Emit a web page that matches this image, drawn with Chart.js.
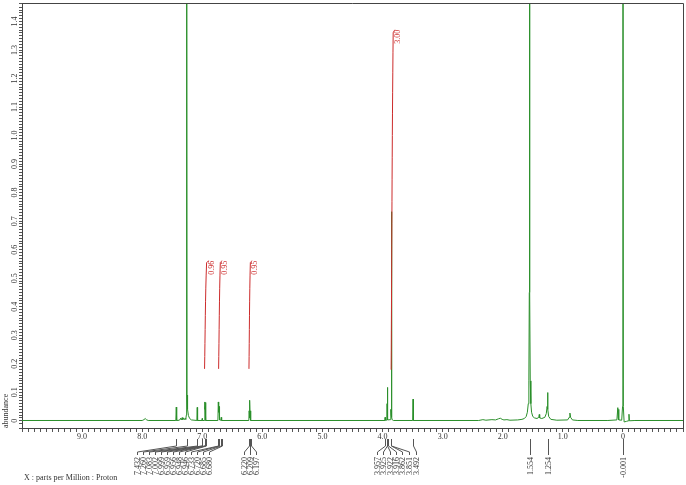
<!DOCTYPE html>
<html lang="en">
<head>
<meta charset="UTF-8" />
<title>1H NMR</title>
<script src="https://cdn.jsdelivr.net/npm/chart.js@4.4.1/dist/chart.umd.min.js"></script>
<style>
  html,body{margin:0;padding:0;background:#fff;}
  #wrap{width:686px;height:485px;}
</style>
</head>
<body>
<div id="wrap"><canvas id="nmr" width="686" height="485"></canvas></div>

<script>
/* ---- data ---- */
// [ppm, abundance]; tall solvent / TMS lines go off the top of the frame
const spectrumPts = [
  [10.0,0.001],[8.00,0.001],[7.97,0.004],[7.95,0.008],[7.93,0.004],[7.90,0.001],
  [7.44,0.001],[7.433,0.048],[7.426,0.001],[7.38,0.002],[7.36,0.009],[7.35,0.003],
  [7.335,0.011],[7.325,0.004],[7.31,0.010],[7.30,0.004],[7.285,0.008],[7.275,0.005],
  [7.265,0.02],[7.260,3.0],[7.254,0.09],[7.245,0.04],[7.23,0.018],[7.21,0.008],[7.18,0.003],
  [7.09,0.001],[7.084,0.047],[7.078,0.001],[7.005,0.001],[7.001,0.008],[6.997,0.001],
  [6.965,0.001],[6.959,0.066],[6.955,0.04],[6.951,0.05],[6.946,0.064],[6.940,0.001],
  [6.74,0.001],[6.733,0.066],[6.727,0.03],[6.720,0.05],[6.713,0.003],[6.69,0.002],
  [6.685,0.012],[6.680,0.01],[6.675,0.001],
  [6.225,0.001],[6.220,0.035],[6.214,0.01],[6.209,0.072],[6.203,0.01],[6.197,0.035],[6.192,0.001],
  [3.96,0.001],[3.957,0.012],[3.953,0.002],[3.93,0.002],[3.925,0.06],[3.922,0.117],
  [3.916,0.05],[3.91,0.003],[3.87,0.004],[3.862,0.04],[3.857,0.02],[3.851,0.733],
  [3.846,0.012],[3.84,0.004],[3.82,0.001],[3.498,0.001],[3.492,0.076],[3.486,0.001],
  [2.40,0.001],[2.33,0.004],[2.28,0.002],[2.18,0.004],[2.12,0.003],[2.07,0.007],
  [2.04,0.009],[2.01,0.005],[1.98,0.003],[1.93,0.004],[1.88,0.002],[1.75,0.003],
  [1.68,0.005],[1.64,0.008],[1.61,0.015],[1.59,0.03],[1.575,0.06],[1.565,0.14],
  [1.558,0.45],[1.554,3.0],[1.549,0.45],[1.542,0.14],[1.532,0.06],[1.52,0.03],
  [1.50,0.015],[1.47,0.01],[1.43,0.008],[1.40,0.012],[1.392,0.022],[1.385,0.01],
  [1.35,0.008],[1.30,0.012],[1.275,0.025],[1.262,0.05],[1.254,0.099],[1.247,0.04],
  [1.235,0.015],[1.20,0.005],[1.10,0.002],[0.92,0.003],[0.895,0.012],[0.882,0.027],
  [0.87,0.012],[0.84,0.003],[0.75,0.001],[0.25,0.001],[0.10,0.003],[0.085,0.046],
  [0.078,0.01],[0.072,0.04],[0.066,0.003],[0.02,0.002],[0.006,0.05],[0.0,3.0],
  [-0.007,0.05],[-0.02,-0.004],[-0.06,-0.002],[-0.09,0.0],[-0.101,0.023],[-0.108,0.0],
  [-0.2,0.001],[-1.0,0.001]
];

const peakLabels = ['7.432','7.260','7.083','7.002','6.999','6.959','6.956','6.948','6.946',
  '6.733','6.720','6.685','6.680','6.220','6.209','6.197',
  '3.957','3.925','3.922','3.916','3.862','3.851','3.492','1.554','1.254','-0.001'];

const integralLabels = ['0.96','0.95','0.95','3.00'];
const integralPpm = [[6.962,6.928,6.887],[6.728,6.700,6.673],[6.223,6.200,6.173],[3.857,3.823,3.795]];
const integralVal = [[0.182,0.554,0.561],[0.182,0.554,0.561],[0.182,0.554,0.561],[0.179,1.360,1.371]];

const xTickLabels = ['9.0','8.0','7.0','6.0','5.0','4.0','3.0','2.0','1.0','0'];
const yTickLabels = ['0','0.1','0.2','0.3','0.4','0.5','0.6','0.7','0.8','0.9','1.0','1.1','1.2','1.3','1.4'];

/* ---- layout / style ---- */
const GREEN = '#2a8f2a', RED = '#cc2b2b', INK = '#333';
const FONT = '"Liberation Serif", "Times New Roman", serif';
// pixel x of each peak label (null = straight under its peak)
const labelSlotX = [];
for (let i = 0; i < 13; i++) labelSlotX.push(Math.round(137 + 6 * i) + .5);
labelSlotX.push(244.5, 250.5, 256.5);
for (let i = 0; i < 6; i++) labelSlotX.push(Math.round(377 + 6.3 * i) + .5);
labelSlotX.push(416.5, null, null, null);

function pickLabel(list, v){
  const hit = list.find(l => Math.abs(parseFloat(l) - v) < 1e-6);
  return hit === undefined ? '' : hit;
}

function upText(ctx, t, x, y){
  ctx.save(); ctx.translate(x, y); ctx.rotate(-Math.PI/2); ctx.fillText(t, 0, 0); ctx.restore();
}

/* frame, rotated y labels, integral values, peak labels */
const nmrDecor = {
  id: 'nmrDecor',
  afterDraw(chart){
    const {ctx, chartArea:a, scales:{x, y}} = chart;
    ctx.save();
    ctx.strokeStyle = '#444'; ctx.lineWidth = 1;
    ctx.beginPath();
    ctx.moveTo(a.left, a.top + .5); ctx.lineTo(a.right + .5, a.top + .5); ctx.lineTo(a.right + .5, a.bottom);
    ctx.stroke();

    ctx.font = '8px ' + FONT;
    ctx.textBaseline = 'middle';

    // y tick labels, read bottom-to-top
    ctx.fillStyle = INK; ctx.textAlign = 'center';
    y.ticks.forEach(tk => {
      const t = pickLabel(yTickLabels, tk.value);
      if (t) upText(ctx, t, a.left - 7, y.getPixelForValue(tk.value));
    });

    // integral values
    ctx.textAlign = 'right';
    ctx.fillStyle = RED;
    integralLabels.forEach((t, i) => {
      const n = integralPpm[i].length - 1;
      upText(ctx, t, x.getPixelForValue(integralPpm[i][n]) + 3, y.getPixelForValue(integralVal[i][n]));
    });

    // peak pick labels
    ctx.strokeStyle = '#555'; ctx.fillStyle = INK;
    const b = a.bottom;
    peakLabels.forEach((t, i) => {
      const px = Math.round(x.getPixelForValue(parseFloat(t))) + .5;
      const lx = labelSlotX[i] == null ? px : labelSlotX[i];
      ctx.beginPath();
      ctx.moveTo(px, b + 11); ctx.lineTo(px, b + 18);
      ctx.lineTo(lx, b + 24); ctx.lineTo(lx, b + 27);
      ctx.stroke();
      upText(ctx, t, lx, b + 29);
    });

    ctx.textAlign = 'left';
    ctx.fillText('X : parts per Million : Proton', a.left + 2, 478);
    ctx.restore();
  }
};

const integralSets = integralLabels.map((t, i) => ({
  data: integralPpm[i].map((p, k) => ({x: p, y: integralVal[i][k]})),
  borderColor: RED, borderWidth: 1, tension: 0.3, pointRadius: 0, order: 1
}));

new Chart(document.getElementById('nmr'), {
  type: 'line',
  data: {
    datasets: [
      { data: spectrumPts.map(p => ({x: p[0], y: p[1]})),
        borderColor: GREEN, borderWidth: 1, pointRadius: 0, tension: 0, order: 2 },
      ...integralSets
    ]
  },
  options: {
    responsive: false,
    animation: false,
    layout: { padding: { top: 3, right: 3, left: 0, bottom: 0 } },
    plugins: { legend: { display: false }, tooltip: { enabled: false } },
    scales: {
      x: {
        type: 'linear', reverse: true, min: -1, max: 10,
        afterFit(s){ s.height = 57; },
        grid: { drawOnChartArea: false, tickLength: 4, color: '#555' },
        border: { color: '#444' },
        ticks: {
          stepSize: 0.1, maxTicksLimit: 2000, autoSkip: false, maxRotation: 0, padding: 0,
          font: { family: FONT, size: 8 }, color: INK,
          callback: v => pickLabel(xTickLabels, v)
        }
      },
      y: {
        min: -0.0253, max: 1.4648,
        afterFit(s){ s.width = 22; },
        grid: { drawOnChartArea: false, tickLength: 3, color: '#555' },
        border: { color: '#444' },
        title: { display: true, text: 'abundance', align: 'start', color: INK,
                 font: { family: FONT, size: 8 }, padding: { top: 1, bottom: 0 } },
        ticks: {
          display: false, stepSize: 0.01, maxTicksLimit: 2000, autoSkip: false
        }
      }
    }
  },
  plugins: [nmrDecor]
});
</script>
</body>
</html>
